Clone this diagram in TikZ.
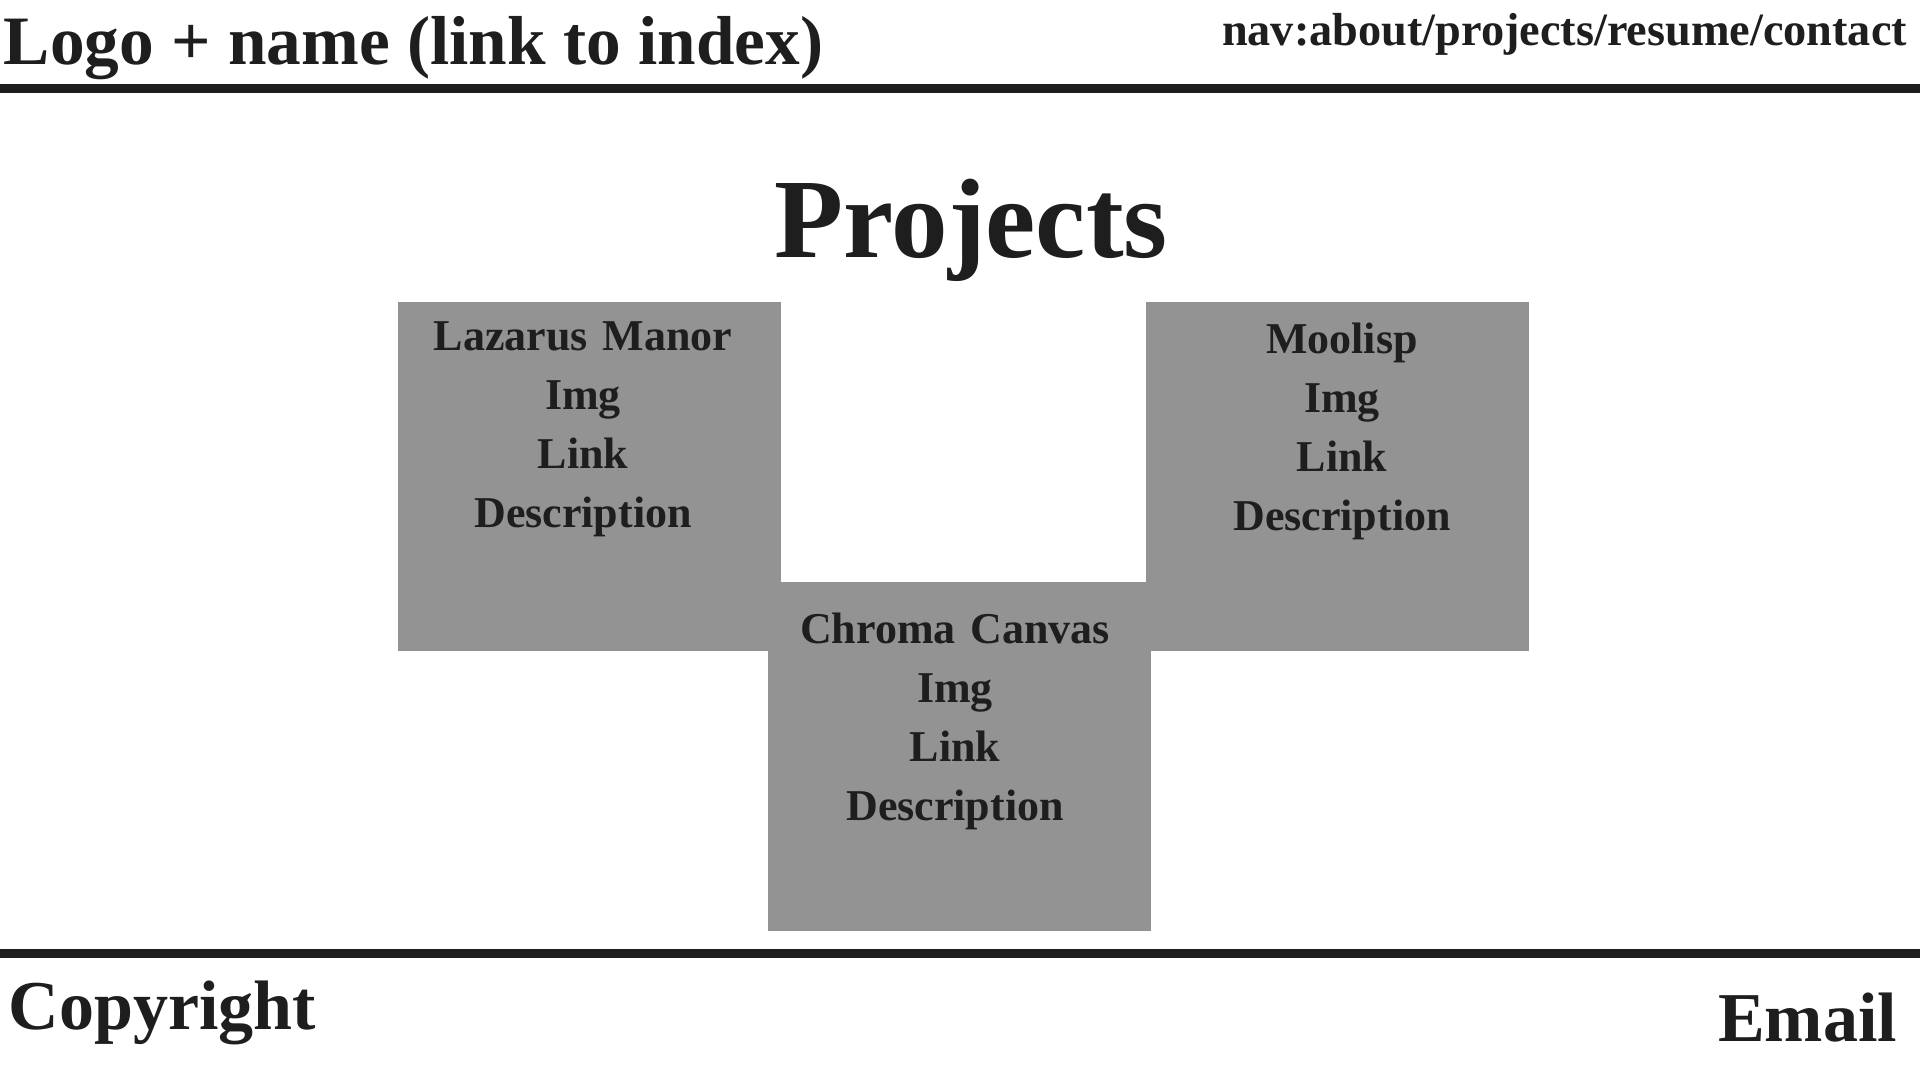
\documentclass[tikz,border=0pt]{standalone}
\usepackage{fontspec}
\setmainfont{Liberation Serif}
\definecolor{ink}{HTML}{1E1E1E}
\definecolor{boxgray}{HTML}{939393}
\begin{document}
\begin{tikzpicture}[x=1pt,y=-1pt,
  every node/.style={inner sep=0pt,outer sep=0pt,text=ink},
  rule/.style={fill=ink,draw=none},
  card/.style={fill=boxgray,draw=none},
  cardtext/.style={font=\fontsize{44}{59}\selectfont\bfseries,align=center,text width=380pt,anchor=base},
  big/.style={font=\fontsize{70}{80}\selectfont\bfseries},
  navtext/.style={font=\fontsize{46.3}{56}\selectfont\bfseries}]
\useasboundingbox (0,0) rectangle (1920,1080);
\fill[white] (0,0) rectangle (1920,1080);
% rules
\fill[rule] (0,83.5) rectangle (1920,92.5);
\fill[rule] (0,948.5) rectangle (1920,957.5);
% header / footer
\node[big,font=\fontsize{69.3}{80}\selectfont\bfseries,anchor=base west] (logo) at (4,64) {Logo + name (link to index)};
\node[navtext,anchor=base east] (nav) at (1907,45) {nav:about/projects/resume/contact};
\node[font=\fontsize{113}{120}\selectfont\bfseries,anchor=base] (title) at (971,257) {Projects};
\node[big,anchor=base west] (copy) at (9,1029) {Copyright};
\node[big,anchor=base east] (email) at (1897,1041) {Email};
% cards
\fill[card] (398,302) rectangle (781,651);
\fill[card] (1146,302) rectangle (1529,651);
\fill[card] (768,582) rectangle (1151,931);
\node[cardtext] (lazarus) at (583,350) {Lazarus Manor\\Img\\Link\\Description};
\node[cardtext] (moolisp) at (1342,353) {Moolisp\\Img\\Link\\Description};
\node[cardtext] (chroma) at (955,643) {Chroma Canvas\\Img\\Link\\Description};
\end{tikzpicture}
\end{document}
